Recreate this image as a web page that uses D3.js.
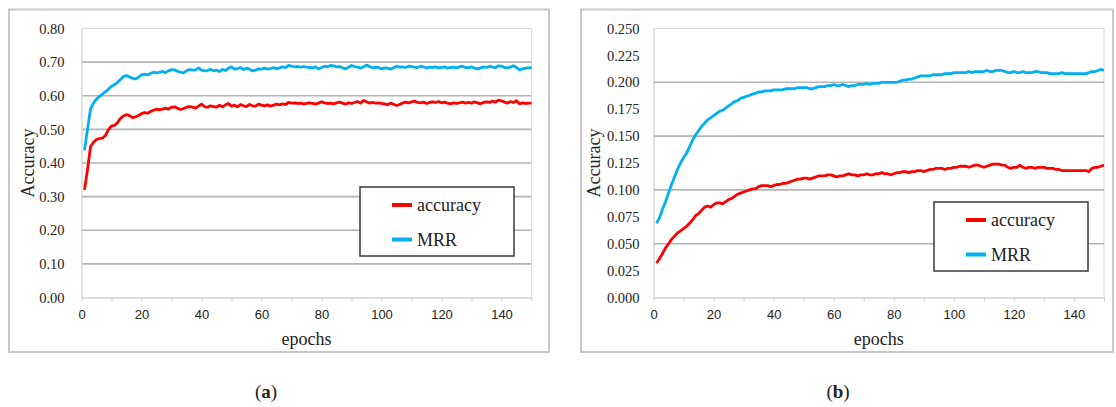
<!DOCTYPE html>
<html lang="en">
<head>
<meta charset="utf-8">
<title>Accuracy and MRR over epochs</title>
<script src="https://cdn.jsdelivr.net/npm/d3@7"></script>
<style>
body { margin: 0; background: #fff; }
text { font-family: "Liberation Serif", "Times New Roman", serif; fill: #222; }
.xtick text { font-family: "Liberation Sans", Arial, sans-serif; font-size: 13px; }
.ytick text { font-size: 14.5px; }
</style>
</head>
<body>
<script>
// epochs 1..150
var epochs = d3.range(1, 151);

// panel (a)
var accA = [
  .320,.380,.448,.462,.470,.473,.474,.482,.500,.510,.512,.520,.533,.540,.544,.541,.535,.537,.541,.547,
  .550,.548,.553,.557,.560,.558,.560,.563,.560,.566,.567,.563,.559,.562,.566,.568,.566,.563,.569,.575,
  .568,.566,.570,.568,.566,.572,.567,.573,.577,.569,.572,.567,.574,.570,.568,.574,.570,.569,.575,.572,
  .570,.573,.569,.572,.575,.573,.576,.574,.580,.578,.579,.577,.578,.576,.577,.579,.577,.575,.578,.582,
  .579,.577,.578,.576,.579,.581,.578,.575,.579,.577,.580,.583,.578,.586,.582,.578,.580,.578,.579,.577,
  .576,.573,.578,.575,.571,.574,.578,.581,.579,.582,.584,.580,.579,.581,.577,.580,.582,.580,.583,.579,
  .581,.578,.576,.579,.577,.579,.581,.578,.580,.578,.582,.579,.576,.580,.582,.580,.584,.581,.587,.585,
  .581,.578,.583,.580,.585,.576,.579,.577,.578,.578];
var mrrA = [
  .438,.500,.560,.578,.590,.598,.605,.612,.620,.628,.633,.640,.648,.657,.660,.656,.652,.650,.655,.662,
  .664,.662,.666,.670,.668,.670,.672,.669,.674,.678,.677,.673,.670,.668,.674,.678,.676,.677,.683,.676,
  .674,.675,.679,.674,.676,.672,.678,.675,.682,.686,.679,.681,.684,.678,.682,.679,.674,.676,.680,.679,
  .682,.679,.681,.684,.680,.683,.686,.684,.690,.688,.686,.687,.685,.687,.685,.684,.683,.686,.680,.684,
  .688,.686,.690,.689,.686,.687,.683,.680,.685,.690,.687,.685,.682,.686,.691,.687,.683,.685,.684,.680,
  .683,.682,.679,.683,.688,.685,.686,.684,.688,.687,.685,.684,.688,.686,.683,.685,.684,.686,.683,.684,
  .686,.682,.684,.685,.683,.686,.688,.684,.683,.686,.682,.680,.683,.686,.684,.688,.685,.684,.689,.688,
  .684,.683,.686,.689,.684,.677,.680,.682,.683,.684];
var ticksYA = [0, 0.1, 0.2, 0.3, 0.4, 0.5, 0.6, 0.7, 0.8];

// panel (b)
var accB = [
  .032,.036,.041,.046,.050,.054,.057,.060,.062,.064,.066,.069,.072,.076,.078,.081,.084,.085,.084,.086,
  .088,.088,.087,.089,.091,.092,.094,.096,.097,.098,.099,.100,.101,.101,.103,.104,.104,.104,.103,.104,
  .105,.105,.106,.106,.107,.108,.109,.110,.110,.111,.111,.110,.111,.112,.113,.113,.113,.114,.114,.113,
  .112,.113,.113,.114,.115,.114,.114,.113,.114,.114,.115,.114,.114,.115,.115,.116,.115,.115,.114,.115,
  .116,.116,.117,.117,.116,.117,.117,.118,.118,.117,.118,.119,.119,.120,.120,.120,.119,.120,.120,.121,
  .121,.122,.122,.122,.121,.122,.123,.123,.122,.121,.122,.123,.124,.124,.124,.123,.123,.121,.120,.121,
  .121,.123,.121,.120,.121,.121,.120,.121,.121,.121,.120,.120,.120,.119,.119,.118,.118,.118,.118,.118,
  .118,.118,.118,.118,.117,.120,.121,.121,.122,.123];
var mrrB = [
  .069,.074,.082,.089,.097,.105,.112,.119,.125,.130,.134,.140,.146,.151,.155,.159,.162,.165,.167,.169,
  .171,.173,.174,.176,.178,.180,.182,.183,.185,.186,.187,.188,.189,.190,.191,.191,.192,.192,.192,.193,
  .193,.193,.193,.194,.194,.194,.194,.195,.195,.195,.195,.194,.194,.195,.196,.196,.196,.197,.197,.198,
  .197,.197,.198,.197,.196,.197,.197,.198,.198,.198,.199,.198,.199,.199,.199,.200,.200,.200,.200,.200,
  .200,.201,.202,.202,.203,.203,.204,.205,.206,.206,.206,.206,.207,.207,.207,.207,.208,.208,.208,.209,
  .209,.209,.209,.209,.210,.209,.210,.210,.210,.210,.211,.210,.210,.211,.211,.211,.210,.209,.209,.210,
  .209,.209,.210,.209,.209,.209,.210,.210,.209,.209,.209,.208,.208,.208,.208,.209,.208,.208,.208,.208,
  .208,.208,.208,.208,.209,.210,.210,.211,.212,.211];
var ticksYB = [0, 0.025, 0.05, 0.075, 0.1, 0.125, 0.15, 0.175, 0.2, 0.225, 0.25];
var gridYB = [0.05, 0.1, 0.15, 0.2];

var ticksX = [0, 20, 40, 60, 80, 100, 120, 140];
var minorX = d3.range(0, 151, 10);
var seriesNames = ["accuracy", "MRR"];
var colors = ["#ff0000", "#00b0f0"];

var w = 1116, h = 407;
var svg = d3.select("body").append("svg").attr("width", w).attr("height", h);

function panel(o) {
  var g = svg.append("g");

  // outer frame
  g.append("rect")
    .attr("x", o.frame[0]).attr("y", 9.5)
    .attr("width", o.frame[1] - o.frame[0]).attr("height", 342.5)
    .attr("fill", "#fff").attr("stroke", "#c8c8c8").attr("stroke-width", 2);

  var x = d3.scaleLinear().domain([0, 150]).range([o.left, o.right]);
  var y = d3.scaleLinear().domain([0, o.ymax]).range([297.5, 28.5]);

  // light plot borders (top, right)
  g.append("path")
    .attr("d", "M" + o.left + "," + y(o.ymax) + "H" + o.right + "V" + y(0))
    .attr("fill", "none").attr("stroke", "#dcdcdc").attr("stroke-width", 1.2);

  // grid
  g.selectAll(".grid").data(o.grid).enter().append("line")
    .attr("x1", o.left).attr("x2", o.right)
    .attr("y1", function(d) { return y(d); }).attr("y2", function(d) { return y(d); })
    .attr("stroke", "#b4b4b4").attr("stroke-width", 1.6);

  // y axis
  var ya = g.append("g").attr("class", "ytick")
    .attr("transform", "translate(" + o.left + ",0)")
    .call(d3.axisLeft(y).tickValues(o.yticks).tickSize(0).tickPadding(o.ypad)
      .tickFormat(d3.format(o.yfmt)));
  ya.select(".domain").attr("stroke", "#d0d0d0").attr("stroke-width", 1.2);
  ya.selectAll("text").attr("fill", "#222");

  // x axis
  var xa = g.append("g").attr("class", "xtick")
    .attr("transform", "translate(0," + y(0) + ")")
    .call(d3.axisBottom(x).tickValues(minorX).tickSize(4).tickPadding(8)
      .tickSizeOuter(0)
      .tickFormat(function(d) { return ticksX.indexOf(d) >= 0 ? d : ""; }));
  xa.select(".domain").attr("stroke", "#d0d0d0").attr("stroke-width", 1.4);
  xa.selectAll("line").attr("stroke", "#d0d0d0");
  xa.selectAll("text").attr("fill", "#222");

  // axis titles
  g.append("text")
    .attr("transform", "translate(" + o.ytitleX + "," + (y(o.ymax / 2)) + ") rotate(-90)")
    .attr("text-anchor", "middle").attr("font-size", 18).text("Accuracy");
  g.append("text")
    .attr("x", (o.left + o.right) / 2).attr("y", 345)
    .attr("text-anchor", "middle").attr("font-size", 18).text("epochs");

  // lines
  var line = d3.line()
    .x(function(d, i) { return x(epochs[i]); })
    .y(function(d) { return y(d); });
  [o.acc, o.mrr].forEach(function(s, k) {
    g.append("path").datum(s)
      .attr("d", line)
      .attr("fill", "none")
      .attr("stroke", colors[k])
      .attr("stroke-width", 2.8)
      .attr("stroke-linejoin", "round");
  });

  // legend
  var lg = g.append("g").attr("transform", "translate(" + o.leg[0] + "," + o.leg[1] + ")");
  lg.append("rect").attr("width", 154).attr("height", 69)
    .attr("fill", "#fff").attr("stroke", "#3a3a3a").attr("stroke-width", 1.5);
  seriesNames.forEach(function(n, k) {
    var yy = 18 + k * 34.5;
    lg.append("line").attr("x1", 32).attr("x2", 52).attr("y1", yy).attr("y2", yy)
      .attr("stroke", colors[k]).attr("stroke-width", 4);
    lg.append("text").attr("x", 57).attr("y", yy).attr("dy", "0.35em")
      .attr("font-size", 18).text(n);
  });

  // caption
  var cap = g.append("text").attr("x", o.cap).attr("y", 398)
    .attr("text-anchor", "middle").attr("font-size", 19);
  cap.append("tspan").text("(");
  cap.append("tspan").attr("font-weight", "bold").text(o.letter);
  cap.append("tspan").text(")");
}

panel({
  frame: [9, 549], left: 81.5, right: 531.5, ymax: 0.8,
  yticks: ticksYA, grid: [0.1, 0.2, 0.3, 0.4, 0.5, 0.6, 0.7], yfmt: ".2f", ypad: 17,
  acc: accA, mrr: mrrA, ytitleX: 34, leg: [360, 187], cap: 266, letter: "a"
});
panel({
  frame: [581, 1113], left: 653.5, right: 1104, ymax: 0.25,
  yticks: ticksYB, grid: gridYB, yfmt: ".3f", ypad: 14,
  acc: accB, mrr: mrrB, ytitleX: 600, leg: [934, 202], cap: 838, letter: "b"
});
</script>
</body>
</html>
